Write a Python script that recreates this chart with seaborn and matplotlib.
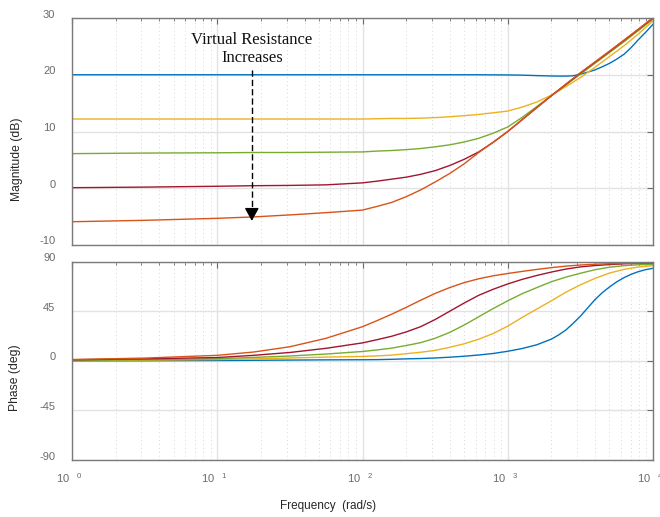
import numpy as np
import pandas as pd
import matplotlib
matplotlib.use("Agg")
import matplotlib.pyplot as plt
import seaborn as sns
from matplotlib.ticker import LogLocator, FixedLocator, NullFormatter
from matplotlib.transforms import ScaledTranslation

# Frequency grid (rad/s)
freq = [1, 3.162, 10, 17.78, 31.62, 56.23, 100, 125.9, 158.5, 199.5, 251.2,
        316.2, 398.1, 501.2, 631.0, 794.3, 1000, 1259, 1585, 1995, 2512,
        3162, 3981, 5012, 6310, 7943, 10000]
# Finer grid for the lowest-resistance trace around its resonance
freq_rv1 = [1, 3.162, 10, 17.78, 31.62, 56.23, 100, 125.9, 158.5, 199.5, 251.2,
            316.2, 398.1, 501.2, 631.0, 794.3, 1000, 1259, 1585, 1995, 2239,
            2512, 2818, 3162, 3548, 3981, 4467, 5012, 5623, 6310, 7079,
            7943, 8913, 10000]

series = ["Rv1", "Rv2", "Rv3", "Rv4", "Rv5"]

# Magnitude (dB) for each virtual-resistance setting
mag_rv1 = [20.0, 20.0, 20.0, 20.0, 20.0, 20.0, 20.0, 20.0, 20.0, 20.0, 20.0,
           20.0, 20.0, 20.0, 20.0, 19.98, 19.97, 19.93, 19.85, 19.78, 19.76,
           19.76, 19.82, 20.1, 20.45, 20.85, 21.4, 22.0, 22.75, 23.6, 24.8,
           26.2, 27.5, 28.9]
mag_rv2 = [12.2, 12.2, 12.2, 12.2, 12.2, 12.2, 12.2, 12.25, 12.3, 12.3, 12.35,
           12.45, 12.6, 12.8, 13.0, 13.3, 13.6, 14.3, 15.2, 16.4, 17.9,
           19.5, 21.3, 23.2, 25.1, 27.2, 29.5]
mag_rv3 = [6.1, 6.2, 6.25, 6.3, 6.3, 6.35, 6.4, 6.55, 6.65, 6.8, 7.0,
           7.3, 7.65, 8.15, 8.8, 9.7, 10.8, 12.5, 14.4, 16.3, 18.2,
           20.1, 22.0, 23.9, 25.8, 27.8, 29.8]
mag_rv4 = [0.1, 0.2, 0.35, 0.45, 0.5, 0.6, 0.95, 1.25, 1.6, 1.95, 2.45,
           3.1, 4.0, 5.1, 6.4, 8.1, 10.0, 12.1, 14.2, 16.3, 18.3,
           20.3, 22.2, 24.1, 26.05, 28.0, 30.0]
mag_rv5 = [-5.9, -5.65, -5.3, -5.05, -4.7, -4.3, -3.85, -3.2, -2.5, -1.5, -0.3,
           1.1, 2.6, 4.3, 6.3, 8.1, 10.0, 12.1, 14.2, 16.3, 18.35,
           20.35, 22.25, 24.15, 26.1, 28.05, 30.05]

# Phase (deg)
ph_rv1 = [0.0, 0.1, 0.3, 0.5, 0.7, 0.9, 1.0, 1.1, 1.4, 1.8, 2.1,
          2.6, 3.3, 4.2, 5.3, 6.7, 8.7, 11.2, 14.6, 19.7, 23.5,
          28.0, 34.0, 40.5, 48.0, 55.5, 61.8, 67.0, 71.7, 75.5, 78.6,
          81.0, 82.8, 84.0]
ph_rv2 = [0.2, 0.6, 1.2, 1.8, 2.6, 3.4, 4.0, 4.5, 5.2, 6.5, 7.8,
          9.5, 12.3, 15.5, 19.6, 24.8, 31.5, 39.5, 47.0, 54.5, 62.3,
          69.0, 74.8, 79.7, 83.0, 85.2, 86.4]
ph_rv3 = [0.3, 1.0, 1.9, 3.1, 4.4, 6.2, 8.5, 9.9, 11.5, 13.9, 16.5,
          20.5, 25.8, 32.5, 40.0, 47.5, 54.5, 61.0, 66.5, 71.8, 76.0,
          79.5, 82.7, 85.0, 86.4, 87.2, 87.7]
ph_rv4 = [1.0, 1.8, 3.0, 5.0, 7.6, 11.4, 16.3, 19.2, 22.3, 26.2, 31.0,
          37.5, 45.0, 52.5, 59.5, 65.0, 69.8, 74.0, 77.5, 80.6, 83.3,
          85.3, 86.5, 87.4, 88.1, 88.5, 88.7]
ph_rv5 = [1.2, 2.5, 5.0, 8.0, 12.8, 20.5, 31.0, 36.5, 42.3, 48.5, 55.0,
          61.2, 66.5, 71.0, 74.5, 77.2, 79.3, 81.2, 83.0, 84.6, 86.0,
          87.0, 87.7, 88.2, 88.5, 88.7, 88.9]

mag_ticks = [-10, 0, 10, 20, 30]
ph_ticks = [-90, -45, 0, 45, 90]
freq_ticks = [1, 10, 100, 1000, 10000]
freq_ticklabels = [r"$\mathregular{10^{\ \ \ %d}}$" % k for k in range(5)]

colors = ["#0072BD", "#EDB120", "#77AC30", "#A2142F", "#D95319"]

freqs = [freq_rv1, freq, freq, freq, freq]
mags = [mag_rv1, mag_rv2, mag_rv3, mag_rv4, mag_rv5]
phases = [ph_rv1, ph_rv2, ph_rv3, ph_rv4, ph_rv5]
df = pd.concat([
    pd.DataFrame({"freq": f, "mag": m, "phase": p, "series": s})
    for s, f, m, p in zip(series, freqs, mags, phases)
], ignore_index=True)

sns.set_theme(style="white")
plt.rcParams["font.family"] = ["Liberation Sans", "DejaVu Sans"]
plt.rcParams["mathtext.fontset"] = "custom"
plt.rcParams["mathtext.rm"] = "Liberation Sans"

W, H = 660, 517
fig = plt.figure(figsize=(W / 100, H / 100), dpi=100)
ax_mag = fig.add_axes([72 / W, 1 - 245 / H, 581 / W, 227 / H])
ax_ph = fig.add_axes([72 / W, 1 - 460 / H, 581 / W, 198.3 / H])

sns.lineplot(data=df, x="freq", y="mag", hue="series", palette=colors,
             estimator=None, legend=False, linewidth=1.0, ax=ax_mag)
sns.lineplot(data=df, x="freq", y="phase", hue="series", palette=colors,
             estimator=None, legend=False, linewidth=1.0, ax=ax_ph)

tick_col = "#6b6b6b"
spine_col = "#7a7a7a"
up = ScaledTranslation(0, 4.5 / 100, fig.dpi_scale_trans)
left = ScaledTranslation(-3 / 100, 0, fig.dpi_scale_trans)

for ax in (ax_mag, ax_ph):
    ax.set_xscale("log")
    ax.set_xlim(1, 1e4)
    ax.xaxis.set_major_locator(FixedLocator(freq_ticks))
    ax.xaxis.set_minor_locator(LogLocator(base=10, subs=np.arange(2, 10)))
    ax.xaxis.set_minor_formatter(NullFormatter())
    ax.set_axisbelow(True)
    ax.grid(which="major", color="#e2e2e2", linewidth=1.0)
    ax.grid(which="minor", axis="x", color="#d6d6d6", linewidth=0.7,
            linestyle=(0, (1, 3)))
    ax.tick_params(which="both", direction="in", top=True, right=True,
                   colors=tick_col, labelsize=8)
    ax.tick_params(which="major", length=4.5, width=0.8)
    ax.tick_params(which="minor", length=2.5, width=0.6)
    ax.tick_params(axis="y", pad=12)
    for sp in ax.spines.values():
        sp.set_color(spine_col)
        sp.set_linewidth(1.0)
    ax.set_xlabel("")
    ax.set_ylabel("")

ax_mag.set_ylim(-10, 30)
ax_mag.set_yticks(mag_ticks)
ax_mag.set_yticklabels([str(t) for t in mag_ticks])
ax_mag.set_xticklabels([])

ax_ph.set_ylim(-90, 90)
ax_ph.set_yticks(ph_ticks)
ax_ph.set_yticklabels([str(t) for t in ph_ticks])
ax_ph.set_xticklabels(freq_ticklabels)
ax_ph.tick_params(axis="x", pad=8)

for ax in (ax_mag, ax_ph):
    for lab in ax.get_yticklabels():
        lab.set_transform(lab.get_transform() + up)
for lab in ax_ph.get_xticklabels():
    lab.set_transform(lab.get_transform() + left)

# Annotation: dashed arrow showing the direction of increasing resistance
arrow_f = 17.3
ax_mag.text(arrow_f, 24.5, "Virtual Resistance\nIncreases", ha="center",
            va="center", fontsize=12, family=["Liberation Serif", "DejaVu Serif"],
            color="#111111", linespacing=1.2)
ax_mag.plot([arrow_f, arrow_f], [20.8, -4.2], color="black", linewidth=1.0,
            linestyle=(0, (4.5, 2.2)))
ax_mag.annotate("", xy=(arrow_f, -5.75), xytext=(arrow_f, -4.0),
                arrowprops=dict(arrowstyle="-|>,head_length=0.65,head_width=0.36",
                                color="black", lw=1.0, shrinkA=0, shrinkB=0))

lab_col = "#262626"
fig.text(17 / W, 1 - 159 / H, "Magnitude (dB)", rotation=90, ha="center",
         va="center", fontsize=8.7, color=lab_col)
fig.text(15 / W, 1 - 377.5 / H, "Phase (deg)", rotation=90, ha="center",
         va="center", fontsize=8.7, color=lab_col)
fig.text(328 / W, 1 - 506 / H, "Frequency  (rad/s)", ha="center",
         va="center", fontsize=8.5, color=lab_col)

fig.savefig("out.png", dpi=100, facecolor="white")
